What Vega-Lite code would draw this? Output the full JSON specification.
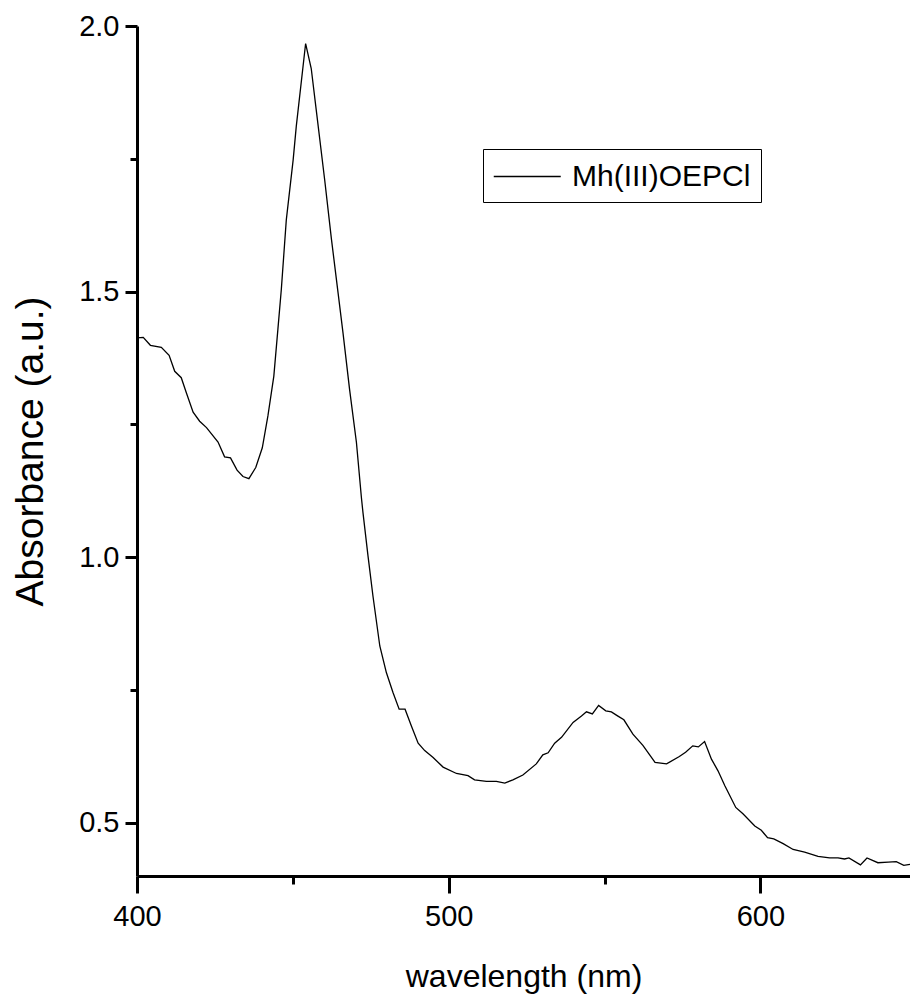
{
  "$schema": "https://vega.github.io/schema/vega-lite/v6.json",
  "autosize": "none",
  "width": 773,
  "height": 850,
  "padding": {"left": 137, "top": 26, "right": 0, "bottom": 125},
  "background": "white",
  "config": {"view": {"stroke": null}},
  "data": {"values": [
    {"w": 400.0, "a": 1.413, "s": "Mh(III)OEPCl"},
    {"w": 402.0, "a": 1.414, "s": "Mh(III)OEPCl"},
    {"w": 404.3, "a": 1.399, "s": "Mh(III)OEPCl"},
    {"w": 407.8, "a": 1.395, "s": "Mh(III)OEPCl"},
    {"w": 410.3, "a": 1.380, "s": "Mh(III)OEPCl"},
    {"w": 412.1, "a": 1.350, "s": "Mh(III)OEPCl"},
    {"w": 414.2, "a": 1.338, "s": "Mh(III)OEPCl"},
    {"w": 415.8, "a": 1.310, "s": "Mh(III)OEPCl"},
    {"w": 418.0, "a": 1.273, "s": "Mh(III)OEPCl"},
    {"w": 420.1, "a": 1.256, "s": "Mh(III)OEPCl"},
    {"w": 422.3, "a": 1.244, "s": "Mh(III)OEPCl"},
    {"w": 426.0, "a": 1.217, "s": "Mh(III)OEPCl"},
    {"w": 428.1, "a": 1.189, "s": "Mh(III)OEPCl"},
    {"w": 430.0, "a": 1.187, "s": "Mh(III)OEPCl"},
    {"w": 432.1, "a": 1.164, "s": "Mh(III)OEPCl"},
    {"w": 434.0, "a": 1.152, "s": "Mh(III)OEPCl"},
    {"w": 435.9, "a": 1.148, "s": "Mh(III)OEPCl"},
    {"w": 438.1, "a": 1.169, "s": "Mh(III)OEPCl"},
    {"w": 440.2, "a": 1.206, "s": "Mh(III)OEPCl"},
    {"w": 442.0, "a": 1.266, "s": "Mh(III)OEPCl"},
    {"w": 443.9, "a": 1.341, "s": "Mh(III)OEPCl"},
    {"w": 445.2, "a": 1.429, "s": "Mh(III)OEPCl"},
    {"w": 446.3, "a": 1.504, "s": "Mh(III)OEPCl"},
    {"w": 447.9, "a": 1.635, "s": "Mh(III)OEPCl"},
    {"w": 450.1, "a": 1.748, "s": "Mh(III)OEPCl"},
    {"w": 451.1, "a": 1.811, "s": "Mh(III)OEPCl"},
    {"w": 454.1, "a": 1.967, "s": "Mh(III)OEPCl"},
    {"w": 455.9, "a": 1.920, "s": "Mh(III)OEPCl"},
    {"w": 457.5, "a": 1.842, "s": "Mh(III)OEPCl"},
    {"w": 460.2, "a": 1.711, "s": "Mh(III)OEPCl"},
    {"w": 462.4, "a": 1.598, "s": "Mh(III)OEPCl"},
    {"w": 464.5, "a": 1.498, "s": "Mh(III)OEPCl"},
    {"w": 466.1, "a": 1.422, "s": "Mh(III)OEPCl"},
    {"w": 468.2, "a": 1.316, "s": "Mh(III)OEPCl"},
    {"w": 470.4, "a": 1.216, "s": "Mh(III)OEPCl"},
    {"w": 472.0, "a": 1.112, "s": "Mh(III)OEPCl"},
    {"w": 472.5, "a": 1.084, "s": "Mh(III)OEPCl"},
    {"w": 474.1, "a": 1.003, "s": "Mh(III)OEPCl"},
    {"w": 475.7, "a": 0.927, "s": "Mh(III)OEPCl"},
    {"w": 477.9, "a": 0.833, "s": "Mh(III)OEPCl"},
    {"w": 480.0, "a": 0.783, "s": "Mh(III)OEPCl"},
    {"w": 482.1, "a": 0.746, "s": "Mh(III)OEPCl"},
    {"w": 484.1, "a": 0.714, "s": "Mh(III)OEPCl"},
    {"w": 486.0, "a": 0.714, "s": "Mh(III)OEPCl"},
    {"w": 488.0, "a": 0.683, "s": "Mh(III)OEPCl"},
    {"w": 490.2, "a": 0.650, "s": "Mh(III)OEPCl"},
    {"w": 492.3, "a": 0.636, "s": "Mh(III)OEPCl"},
    {"w": 495.0, "a": 0.623, "s": "Mh(III)OEPCl"},
    {"w": 498.2, "a": 0.605, "s": "Mh(III)OEPCl"},
    {"w": 502.5, "a": 0.593, "s": "Mh(III)OEPCl"},
    {"w": 506.2, "a": 0.589, "s": "Mh(III)OEPCl"},
    {"w": 508.3, "a": 0.581, "s": "Mh(III)OEPCl"},
    {"w": 512.1, "a": 0.578, "s": "Mh(III)OEPCl"},
    {"w": 515.3, "a": 0.578, "s": "Mh(III)OEPCl"},
    {"w": 518.0, "a": 0.575, "s": "Mh(III)OEPCl"},
    {"w": 520.6, "a": 0.581, "s": "Mh(III)OEPCl"},
    {"w": 523.8, "a": 0.590, "s": "Mh(III)OEPCl"},
    {"w": 528.1, "a": 0.611, "s": "Mh(III)OEPCl"},
    {"w": 530.2, "a": 0.628, "s": "Mh(III)OEPCl"},
    {"w": 531.9, "a": 0.632, "s": "Mh(III)OEPCl"},
    {"w": 534.0, "a": 0.650, "s": "Mh(III)OEPCl"},
    {"w": 536.2, "a": 0.661, "s": "Mh(III)OEPCl"},
    {"w": 539.9, "a": 0.689, "s": "Mh(III)OEPCl"},
    {"w": 542.6, "a": 0.701, "s": "Mh(III)OEPCl"},
    {"w": 544.2, "a": 0.709, "s": "Mh(III)OEPCl"},
    {"w": 546.1, "a": 0.705, "s": "Mh(III)OEPCl"},
    {"w": 548.1, "a": 0.721, "s": "Mh(III)OEPCl"},
    {"w": 550.4, "a": 0.711, "s": "Mh(III)OEPCl"},
    {"w": 552.2, "a": 0.709, "s": "Mh(III)OEPCl"},
    {"w": 554.3, "a": 0.701, "s": "Mh(III)OEPCl"},
    {"w": 556.2, "a": 0.694, "s": "Mh(III)OEPCl"},
    {"w": 559.1, "a": 0.667, "s": "Mh(III)OEPCl"},
    {"w": 562.3, "a": 0.646, "s": "Mh(III)OEPCl"},
    {"w": 566.2, "a": 0.614, "s": "Mh(III)OEPCl"},
    {"w": 569.9, "a": 0.611, "s": "Mh(III)OEPCl"},
    {"w": 574.0, "a": 0.625, "s": "Mh(III)OEPCl"},
    {"w": 576.0, "a": 0.633, "s": "Mh(III)OEPCl"},
    {"w": 578.3, "a": 0.645, "s": "Mh(III)OEPCl"},
    {"w": 580.1, "a": 0.643, "s": "Mh(III)OEPCl"},
    {"w": 582.1, "a": 0.653, "s": "Mh(III)OEPCl"},
    {"w": 584.3, "a": 0.620, "s": "Mh(III)OEPCl"},
    {"w": 586.4, "a": 0.598, "s": "Mh(III)OEPCl"},
    {"w": 588.6, "a": 0.570, "s": "Mh(III)OEPCl"},
    {"w": 592.1, "a": 0.529, "s": "Mh(III)OEPCl"},
    {"w": 594.4, "a": 0.517, "s": "Mh(III)OEPCl"},
    {"w": 598.2, "a": 0.494, "s": "Mh(III)OEPCl"},
    {"w": 600.3, "a": 0.486, "s": "Mh(III)OEPCl"},
    {"w": 602.3, "a": 0.472, "s": "Mh(III)OEPCl"},
    {"w": 604.3, "a": 0.470, "s": "Mh(III)OEPCl"},
    {"w": 607.3, "a": 0.461, "s": "Mh(III)OEPCl"},
    {"w": 610.5, "a": 0.450, "s": "Mh(III)OEPCl"},
    {"w": 614.2, "a": 0.445, "s": "Mh(III)OEPCl"},
    {"w": 618.5, "a": 0.437, "s": "Mh(III)OEPCl"},
    {"w": 622.2, "a": 0.434, "s": "Mh(III)OEPCl"},
    {"w": 624.9, "a": 0.434, "s": "Mh(III)OEPCl"},
    {"w": 627.0, "a": 0.432, "s": "Mh(III)OEPCl"},
    {"w": 628.4, "a": 0.434, "s": "Mh(III)OEPCl"},
    {"w": 632.1, "a": 0.421, "s": "Mh(III)OEPCl"},
    {"w": 634.2, "a": 0.434, "s": "Mh(III)OEPCl"},
    {"w": 637.7, "a": 0.425, "s": "Mh(III)OEPCl"},
    {"w": 641.0, "a": 0.426, "s": "Mh(III)OEPCl"},
    {"w": 643.6, "a": 0.427, "s": "Mh(III)OEPCl"},
    {"w": 646.0, "a": 0.420, "s": "Mh(III)OEPCl"},
    {"w": 648.0, "a": 0.422, "s": "Mh(III)OEPCl"}
  ]},
  "mark": {"type": "line", "strokeWidth": 1.3, "clip": true},
  "encoding": {
    "x": {
      "field": "w", "type": "quantitative",
      "scale": {"domain": [400, 648], "nice": false, "zero": false},
      "axis": {
        "values": [400, 450, 500, 550, 600],
        "labelExpr": "datum.value % 100 === 0 ? format(datum.value, 'd') : ''",
        "labelOverlap": false,
        "labelFont": "Liberation Sans",
        "labelFontSize": 29,
        "labelColor": "black",
        "labelPadding": 9,
        "labelFlush": false,
        "grid": false,
        "domainColor": "black",
        "domainWidth": 3,
        "tickColor": "black",
        "tickWidth": 3,
        "tickSize": {"condition": {"test": "datum.value % 100 === 0", "value": 17}, "value": 8},
        "title": "wavelength (nm)",
        "titleFont": "Liberation Sans",
        "titleFontSize": 32,
        "titleFontWeight": "normal",
        "titleColor": "black",
        "titlePadding": 30
      }
    },
    "y": {
      "field": "a", "type": "quantitative",
      "scale": {"domain": [0.4, 2.0], "nice": false, "zero": false},
      "axis": {
        "values": [0.5, 0.75, 1.0, 1.25, 1.5, 1.75, 2.0],
        "labelExpr": "datum.value % 0.5 === 0 ? format(datum.value, '.1f') : ''",
        "labelOverlap": false,
        "labelFont": "Liberation Sans",
        "labelFontSize": 29,
        "labelColor": "black",
        "labelPadding": 6,
        "labelFlush": false,
        "grid": false,
        "domainColor": "black",
        "domainWidth": 3,
        "tickColor": "black",
        "tickWidth": 3,
        "tickSize": {"condition": {"test": "datum.value % 0.5 === 0", "value": 12}, "value": 7},
        "title": "Absorbance (a.u.)",
        "titleFont": "Liberation Sans",
        "titleFontSize": 39,
        "titleFontWeight": "normal",
        "titleColor": "black",
        "titlePadding": 28
      }
    },
    "color": {
      "field": "s", "type": "nominal",
      "scale": {"range": ["black"]},
      "legend": {
        "title": null,
        "orient": "none",
        "legendX": 346,
        "legendY": 123,
        "strokeColor": "black",
        "fillColor": "white",
        "padding": 10,
        "symbolType": "M-1,0H3",
        "symbolSize": 1122,
        "symbolStrokeWidth": 1.3,
        "symbolStrokeColor": "black",
        "labelFont": "Liberation Sans",
        "labelFontSize": 30,
        "labelColor": "black",
        "labelOffset": 44,
        "labelLimit": 0
      }
    }
  }
}
